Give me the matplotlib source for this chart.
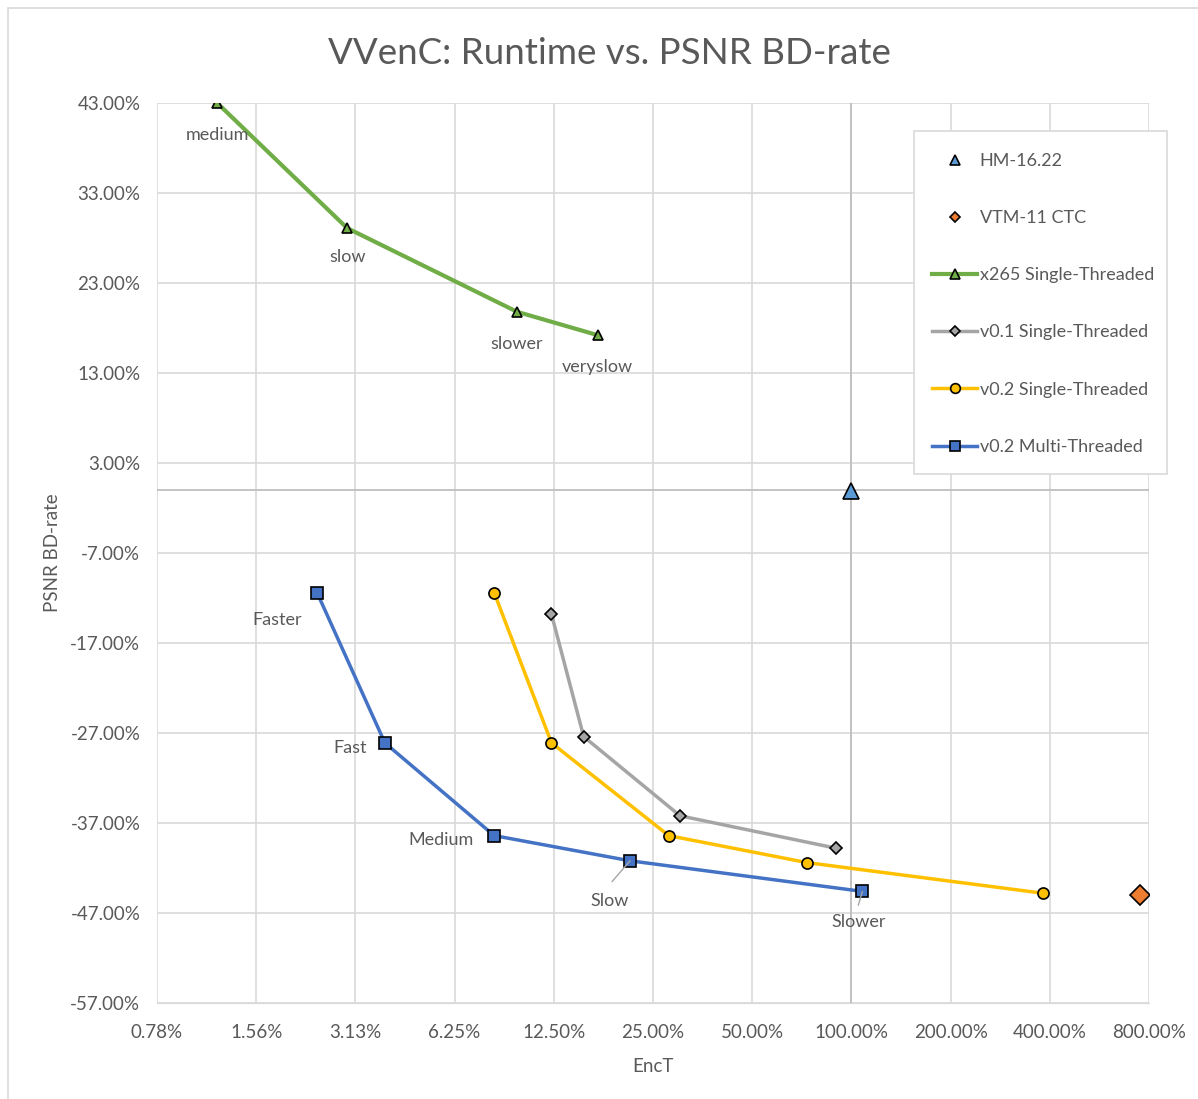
import matplotlib.pyplot as plt
from matplotlib.lines import Line2D
from matplotlib.patches import Rectangle

# EncT (%) and PSNR BD-rate (%) per series
hm_x = [100.0]
hm_y = [-0.1]
vtm_x = [751.0]
vtm_y = [-45.0]

x265_x = [1.19, 2.95, 9.67, 17.0]
x265_y = [43.0, 29.1, 19.8, 17.2]
x265_labels = ["medium", "slow", "slower", "veryslow"]

v01_x = [12.3, 15.4, 30.2, 89.8]
v01_y = [-13.8, -27.4, -36.2, -39.8]

v02st_x = [8.24, 12.3, 27.9, 73.3, 381.0]
v02st_y = [-11.4, -28.1, -38.4, -41.4, -44.8]

v02mt_x = [2.39, 3.84, 8.24, 21.3, 108.0]
v02mt_y = [-11.4, -28.1, -38.4, -41.2, -44.6]
v02mt_labels = ["Faster", "Fast", "Medium", "Slow", "Slower"]

xticks = [0.78125, 1.5625, 3.125, 6.25, 12.5, 25, 50, 100, 200, 400, 800]
xtick_labels = ["0.78%", "1.56%", "3.13%", "6.25%", "12.50%", "25.00%",
                "50.00%", "100.00%", "200.00%", "400.00%", "800.00%"]
yticks = [-57, -47, -37, -27, -17, -7, 3, 13, 23, 33, 43]

plt.rcParams['font.family'] = ['Lato', 'DejaVu Sans']
txt = "#595959"
grid = "#D9D9D9"
W, H = 1198, 1099

fig = plt.figure(figsize=(11.98, 10.99), dpi=100)
ax = fig.add_axes([157 / W, 1 - 1003 / H, 992 / W, 900 / H])
fig.patches.append(Rectangle((8 / W, -0.01), 1.2, 1 - 8 / H + 0.01,
                             transform=fig.transFigure, fill=False,
                             edgecolor="#D9D9D9", lw=1.2))

ax.set_xscale("log", base=2)
ax.set_xlim(xticks[0], xticks[-1])
ax.set_ylim(-57, 43)
ax.set_xticks(xticks)
ax.set_xticklabels(xtick_labels)
ax.minorticks_off()
ax.set_yticks(yticks)
ax.set_yticklabels(["%.2f%%" % v for v in yticks])
ax.tick_params(length=0, labelsize=13.5, colors=txt, pad=12)
ax.tick_params(axis="x", pad=15)
for s in ax.spines.values():
    s.set_visible(False)
ax.spines["bottom"].set_visible(True)
ax.spines["bottom"].set_color(grid)
ax.grid(True, color=grid, lw=1.2)
ax.set_axisbelow(True)

# axis cross lines
ax.axhline(0, color="#BFBFBF", lw=1.3, zorder=1.5)
ax.axvline(100, color="#BFBFBF", lw=1.3, zorder=1.5)

ax.plot(x265_x, x265_y, color="#70AD47", lw=3, marker="^", ms=7,
        mfc="#70AD47", mec="black", mew=1.2, zorder=3)
ax.plot(v01_x, v01_y, color="#A5A5A5", lw=2.5, marker="D", ms=6,
        mfc="#A5A5A5", mec="black", mew=1.2, zorder=3)
ax.plot(v02st_x, v02st_y, color="#FFC000", lw=2.5, marker="o", ms=8,
        mfc="#FFC000", mec="black", mew=1.2, zorder=3)
ax.plot(v02mt_x, v02mt_y, color="#4472C4", lw=2.5, marker="s", ms=8,
        mfc="#4472C4", mec="black", mew=1.2, zorder=3)
ax.plot(hm_x, hm_y, ls="none", marker="^", ms=11, mfc="#5B9BD5",
        mec="black", mew=1.2, zorder=4)
ax.plot(vtm_x, vtm_y, ls="none", marker="D", ms=10, mfc="#ED7D31",
        mec="black", mew=1.2, zorder=4)

# data labels (offsets in points)
x265_off = [(0, -23), (0, -21), (0, -23), (0, -23)]
for x, y, t, o in zip(x265_x, x265_y, x265_labels, x265_off):
    ax.annotate(t, (x, y), xytext=o, textcoords="offset points",
                ha="center", va="center", fontsize=13, color=txt)
mt_off = [(-29, -20), (-25, -4), (-38, -3), (-15, -29), (-3, -22)]
for x, y, t, o in zip(v02mt_x, v02mt_y, v02mt_labels, mt_off):
    ax.annotate(t, (x, y), xytext=o, textcoords="offset points",
                ha="center", va="center", fontsize=13, color=txt)
# leader lines for Slow / Slower
ax.annotate("", (v02mt_x[3], v02mt_y[3]), xytext=(-13, -15),
            textcoords="offset points",
            arrowprops=dict(arrowstyle="-", color="#A6A6A6", lw=1,
                            shrinkA=0, shrinkB=0))
ax.annotate("", (v02mt_x[4], v02mt_y[4]), xytext=(-3, -10),
            textcoords="offset points",
            arrowprops=dict(arrowstyle="-", color="#A6A6A6", lw=1,
                            shrinkA=0, shrinkB=0))

fig.text(609 / W, 1 - 53 / H, "VVenC: Runtime vs. PSNR BD-rate",
         fontsize=26.5, color=txt, ha="center", va="center")
ax.set_xlabel("EncT", fontsize=13.5, color=txt, labelpad=12)
ax.set_ylabel("PSNR BD-rate", fontsize=13.5, color=txt, labelpad=7)

# legend box
fig.patches.append(Rectangle((914 / W, 1 - 474 / H), 253 / W, 343 / H,
                             transform=fig.transFigure, facecolor="white",
                             edgecolor="#D9D9D9", lw=1.2, zorder=4))
handles = [
    Line2D([], [], ls="none", marker="^", ms=7, mfc="#5B9BD5", mec="black", mew=1.2),
    Line2D([], [], ls="none", marker="D", ms=5.5, mfc="#ED7D31", mec="black", mew=1.2),
    Line2D([], [], color="#70AD47", lw=3, marker="^", ms=7, mfc="#70AD47", mec="black", mew=1.2),
    Line2D([], [], color="#A5A5A5", lw=2.5, marker="D", ms=5.5, mfc="#A5A5A5", mec="black", mew=1.2),
    Line2D([], [], color="#FFC000", lw=2.5, marker="o", ms=7, mfc="#FFC000", mec="black", mew=1.2),
    Line2D([], [], color="#4472C4", lw=2.5, marker="s", ms=7, mfc="#4472C4", mec="black", mew=1.2),
]
labels = ["HM-16.22", "VTM-11 CTC", "x265 Single-Threaded",
          "v0.1 Single-Threaded", "v0.2 Single-Threaded", "v0.2 Multi-Threaded"]
leg = fig.legend(handles, labels, loc="upper left",
                 bbox_to_anchor=(932 / W, 1 - 153 / H),
                 fontsize=13, labelspacing=2.28, handlelength=2.5,
                 handletextpad=0.15, borderpad=0, frameon=False,
                 borderaxespad=0)
leg.set_zorder(5)
for t in leg.get_texts():
    t.set_color(txt)

fig.savefig("out.png", dpi=100)
